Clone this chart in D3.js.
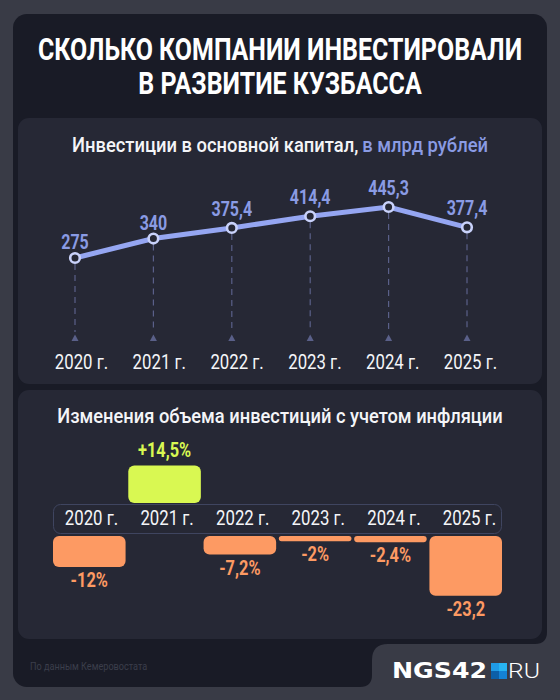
<!DOCTYPE html>
<html><head><meta charset="utf-8">
<script src="https://cdn.jsdelivr.net/npm/d3@7"></script>
<style>html,body{margin:0;padding:0;background:#393b46}svg{display:block}text{font-family:Roboto,sans-serif}</style>
</head><body><svg id="c" width="560" height="700"></svg>
<script>
const years=["2020 г.","2021 г.","2022 г.","2023 г.","2024 г.","2025 г."];
const investValues=[275,340,375.4,414.4,445.3,377.4];
const investLabels=["275","340","375,4","414,4","445,3","377,4"];
const changeValues=[-12,14.5,-7.2,-2,-2.4,-23.2];
const changeLabels=["-12%","+14,5%","-7,2%","-2%","-2,4%","-23,2"];
const titleLines=["СКОЛЬКО КОМПАНИИ ИНВЕСТИРОВАЛИ","В РАЗВИТИЕ КУЗБАССА"];

const svg=d3.select("#c");
const BG="#393b46",DARK="#191b26",PANEL="#262835",WHITE="#f4f5f8",BLUE="#8a9be4",LINE="#95a6f2",
      ORANGE="#fd9a63",LIME="#d9f852",DASH="#5a6089";
// narrow the Roboto glyphs horizontally around each text's own anchor
const squeeze=(sel,f)=>sel.each(function(){const t=d3.select(this);
  const px=+t.attr("x")||0,py=+t.attr("y")||0;
  t.attr("x",0).attr("y",0).attr("transform",`translate(${px},${py}) scale(${f},1)`);});

svg.append("rect").attr("width",560).attr("height",700).attr("fill",BG);
svg.append("rect").attr("x",13).attr("y",14).attr("width",534).attr("height",673).attr("rx",14).attr("fill",DARK);
svg.append("path").attr("fill",BG).attr("d","M360 687 Q372 687 372 675 L372 660 Q372 644 388 644 L535 644 Q547 644 547 632 L560 632 L560 700 L360 700 Z");
svg.append("rect").attr("x",18).attr("y",118).attr("width",524).attr("height",266).attr("rx",11).attr("fill",PANEL);
svg.append("rect").attr("x",18).attr("y",390).attr("width",524).attr("height",249).attr("rx",11).attr("fill",PANEL);

// title
svg.selectAll("text.title").data(titleLines).join("text").attr("class","title")
  .attr("x",280).attr("y",(d,i)=>59.5+i*34).attr("text-anchor","middle")
  .attr("font-size",31).attr("font-weight",700).attr("fill","#fff").text(d=>d).call(squeeze,0.805);

// line chart
svg.append("text").attr("x",72).attr("y",152).attr("font-size",21).attr("font-weight",500).attr("fill",WHITE)
  .text("Инвестиции в основной капитал,").call(squeeze,0.875);
svg.append("text").attr("x",488).attr("y",152).attr("text-anchor","end").attr("font-size",21).attr("font-weight",500).attr("fill",BLUE)
  .text("в млрд рублей").call(squeeze,0.875);

const x=d3.scalePoint().domain(years).range([75,467]);
const y=d3.scaleLinear().domain([275,445.3]).range([258,207]);
const pts=years.map((d,i)=>({year:d,v:investValues[i],label:investLabels[i]}));

svg.selectAll("line.drop").data(pts).join("line").attr("class","drop")
  .attr("x1",d=>x(d.year)).attr("x2",d=>x(d.year)).attr("y1",d=>y(d.v)+6).attr("y2",332)
  .attr("stroke",DASH).attr("stroke-width",1.2).attr("stroke-dasharray","6 5");
svg.selectAll("path.tri").data(pts).join("path").attr("class","tri")
  .attr("transform",d=>`translate(${x(d.year)},339)`).attr("d","M0 -4.5L3.5 2L-3.5 2Z").attr("fill",DASH);

svg.append("path").datum(pts).attr("fill","none").attr("stroke",LINE).attr("stroke-width",5)
  .attr("d",d3.line().x(d=>x(d.year)).y(d=>y(d.v)));
svg.selectAll("circle.pt").data(pts).join("circle").attr("class","pt")
  .attr("cx",d=>x(d.year)).attr("cy",d=>y(d.v)).attr("r",4.8)
  .attr("fill",PANEL).attr("stroke","#c9d2fb").attr("stroke-width",2.6);
svg.selectAll("text.val").data(pts).join("text").attr("class","val")
  .attr("x",d=>x(d.year)).attr("y",(d,i)=>y(d.v)-(i<2?9:12)).attr("text-anchor","middle")
  .attr("font-size",20).attr("font-weight",700).attr("fill",BLUE).text(d=>d.label).call(squeeze,0.8);

const xLab=d3.scalePoint().domain(years).range([81,470]);
const axis1=svg.append("g").attr("transform","translate(0,355)")
  .call(d3.axisBottom(xLab).tickSize(0).tickPadding(0));
axis1.select(".domain").remove();
axis1.selectAll("text").attr("font-size",20).attr("font-family","Roboto").attr("fill",WHITE).call(squeeze,0.84);

// bar chart
svg.append("text").attr("x",280).attr("y",423).attr("text-anchor","middle")
  .attr("font-size",21).attr("font-weight",500).attr("fill",WHITE)
  .text("Изменения объема инвестиций с учетом инфляции").call(squeeze,0.872);

const xb=d3.scaleBand().domain(years).range([53,502]).paddingInner(0.036).paddingOuter(0);
const h=d3.scaleLinear().domain([0,25]).range([0,64.5]);
const posBase=503,negBase=536;
const bars=years.map((d,i)=>({year:d,v:changeValues[i],label:changeLabels[i]}));
svg.selectAll("rect.bar").data(bars).join("rect").attr("class","bar")
  .attr("x",d=>xb(d.year)).attr("width",xb.bandwidth())
  .attr("y",d=>d.v>0?posBase-h(d.v):negBase)
  .attr("height",d=>h(Math.abs(d.v)))
  .attr("rx",d=>Math.min(6,h(Math.abs(d.v))/2))
  .attr("fill",d=>d.v>0?LIME:ORANGE);
svg.selectAll("text.chg").data(bars).join("text").attr("class","chg")
  .attr("x",d=>xb(d.year)+xb.bandwidth()/2)
  .attr("y",d=>d.v>0?posBase-h(d.v)-9:negBase+h(-d.v)+20)
  .attr("text-anchor","middle").attr("font-size",20).attr("font-weight",700)
  .attr("fill",d=>d.v>0?LIME:ORANGE).text(d=>d.label).call(squeeze,0.82);

svg.append("rect").attr("x",53.5).attr("y",504.5).attr("width",448).attr("height",29).attr("rx",7)
  .attr("fill","none").attr("stroke","#3f4560").attr("stroke-width",1);
const xl2=d3.scalePoint().domain(years).range([91,469]);
const axis2=svg.append("g").attr("transform","translate(0,511)")
  .call(d3.axisBottom(xl2).tickSize(0).tickPadding(0));
axis2.select(".domain").remove();
axis2.selectAll("text").attr("font-size",20).attr("font-family","Roboto").attr("fill",WHITE).call(squeeze,0.84);

// footer
svg.append("text").attr("x",30).attr("y",670).attr("font-size",10.5).attr("fill","#3b3e4b")
  .text("По данным Кемеровостата").call(squeeze,0.87);

// logo
svg.append("text").attr("x",392).attr("y",678).style("font-family","'DejaVu Sans'")
  .attr("font-size",21).attr("font-weight",700).attr("fill","#fff").text("NGS42").call(squeeze,1.2);
const logo=svg.append("g");
[[491,663,"#1f9be6"],[499,663,"#27b4f2"],[491,671,"#0c5fa8"],[499,671,"#1482d6"]].forEach(([a,b,c])=>
  logo.append("rect").attr("x",a).attr("y",b).attr("width",8).attr("height",8).attr("fill",c));
svg.append("text").attr("x",508).attr("y",678).style("font-family","Roboto").attr("font-size",21)
  .attr("font-weight",300).attr("fill","#fff").text("RU").call(squeeze,1.18);
</script></body></html>
